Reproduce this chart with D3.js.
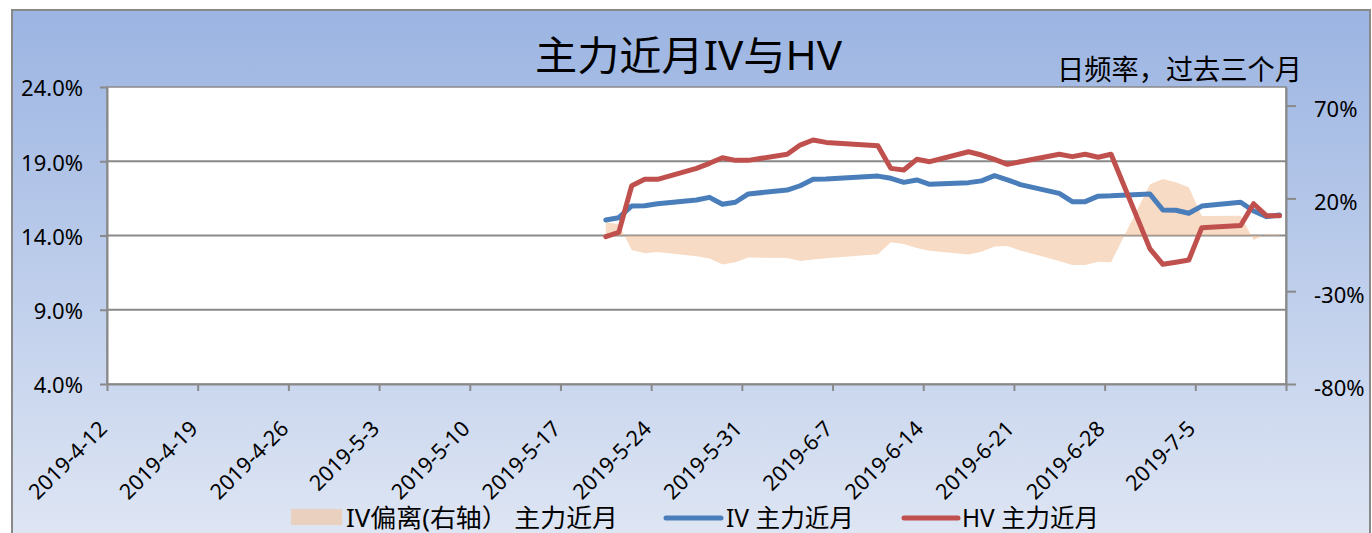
<!DOCTYPE html>
<html>
<head>
<meta charset="utf-8">
<script src="https://cdn.jsdelivr.net/npm/d3@7"></script>
<style>
  html, body { margin: 0; padding: 0; background: #fff; overflow: hidden; }
  text { font-family: "Noto Sans", "Noto Sans CJK SC", sans-serif; fill: #000; }
</style>
</head>
<body>
<div id="chart"></div>
<script>
// trading days shown
const dates = [
  "2019-05-20","2019-05-21","2019-05-22","2019-05-23","2019-05-24",
  "2019-05-27","2019-05-28","2019-05-29","2019-05-30","2019-05-31",
  "2019-06-03","2019-06-04","2019-06-05","2019-06-06",
  "2019-06-10","2019-06-11","2019-06-12","2019-06-13","2019-06-14",
  "2019-06-17","2019-06-18","2019-06-19","2019-06-20","2019-06-21",
  "2019-06-24","2019-06-25","2019-06-26","2019-06-27","2019-06-28",
  "2019-07-01","2019-07-02","2019-07-03","2019-07-04","2019-07-05",
  "2019-07-08","2019-07-09","2019-07-10","2019-07-11"
];
// IV 主力近月 (%)
const ivValues = [
  15.04, 15.20, 15.99, 16.00, 16.14,
  16.39, 16.57, 16.10, 16.24, 16.80,
  17.06, 17.35, 17.78, 17.80,
  18.00, 17.85, 17.58, 17.74, 17.45,
  17.56, 17.68, 18.03, 17.74, 17.43,
  16.84, 16.28, 16.28, 16.65, 16.67,
  16.79, 15.72, 15.70, 15.50, 15.98,
  16.24, 15.65, 15.27, 15.38
];
// HV 主力近月 (%)
const hvValues = [
  13.92, 14.21, 17.35, 17.78, 17.78,
  18.52, 18.86, 19.24, 19.06, 19.06,
  19.47, 20.09, 20.43, 20.27,
  20.05, 18.52, 18.41, 19.13, 18.97,
  19.64, 19.42, 19.13, 18.79, 18.97,
  19.47, 19.31, 19.47, 19.27, 19.47,
  13.10, 12.06, 12.20, 12.35, 14.53,
  14.67, 16.14, 15.33, 15.33
];
// IV偏离 (右轴, %)
const devValues = [
  7.2, 6.0, -7.8, -9.6, -8.9,
  -11.2, -12.4, -15.6, -14.4, -11.9,
  -12.1, -13.7, -12.9, -12.3,
  -10.1, -3.7, -4.6, -6.8, -8.2,
  -10.2, -8.8, -5.9, -5.7, -8.1,
  -13.8, -15.9, -15.9, -14.1, -14.4,
  27.6, 30.5, 28.7, 26.0, 10.5,
  10.7, -2.4, 0.8, 0.3
];

const xStart = "2019-04-12", xEnd = "2019-07-12";
const leftTicks = [4, 9, 14, 19, 24];
const rightTicks = [-80, -30, 20, 70];
const titleText = "主力近月IV与HV";
const subtitleText = "日频率，过去三个月";
const legendLabels = ["IV偏离(右轴）  主力近月", "IV 主力近月", "HV 主力近月"];

const W = 1372, H = 533;
const plot = {left: 107, right: 1286, top: 87, bottom: 384};
const blue = "#4a7ebb", red = "#c0504d", peach = "#f4c39c", grey = "#898989";

const parse = d3.timeParse("%Y-%m-%d");
const fmt = d3.timeFormat("%Y-%-m-%-d");
const data = dates.map((d, i) => ({date: parse(d), iv: ivValues[i], hv: hvValues[i], dev: devValues[i]}));

const svg = d3.select("#chart").append("svg")
  .attr("width", W).attr("height", H);

// background gradient
const grad = svg.append("defs").append("linearGradient")
  .attr("id", "bg").attr("x1", 0).attr("y1", 0).attr("x2", 0).attr("y2", 1);
grad.append("stop").attr("offset", "0%").attr("stop-color", "#9bb4e2");
grad.append("stop").attr("offset", "100%").attr("stop-color", "#e0e7f4");

svg.append("rect")
  .attr("x", 12).attr("y", 10).attr("width", 1358).attr("height", 540)
  .attr("fill", "url(#bg)").attr("stroke", grey).attr("stroke-width", 2);

svg.append("rect")
  .attr("x", plot.left).attr("y", plot.top)
  .attr("width", plot.right - plot.left).attr("height", plot.bottom - plot.top)
  .attr("fill", "#fff").attr("stroke", grey).attr("stroke-width", 1.5);

// scales
const x = d3.scaleTime()
  .domain([parse(xStart), parse(xEnd)])
  .range([plot.left, plot.right]);
const yL = d3.scaleLinear().domain([4, 24]).range([plot.bottom, plot.top]);
const yR = d3.scaleLinear().domain([-80, 80]).range([plot.bottom, plot.top]);
// points sit in the middle of their day slot
const xd = d => x(d3.timeHour.offset(d, 12));

// gridlines
svg.append("g").selectAll("line")
  .data(leftTicks.filter(t => t > 4 && t < 24))
  .enter().append("line")
  .attr("x1", plot.left).attr("x2", plot.right)
  .attr("y1", d => yL(d)).attr("y2", d => yL(d))
  .attr("stroke", grey).attr("stroke-width", 2);

// IV deviation area (right axis)
svg.append("path")
  .datum(data)
  .attr("d", d3.area()
    .x(d => xd(d.date))
    .y0(yR(0))
    .y1(d => yR(d.dev)))
  .attr("fill", peach).attr("fill-opacity", 0.6);

// IV line
svg.append("path")
  .datum(data)
  .attr("d", d3.line().x(d => xd(d.date)).y(d => yL(d.iv)))
  .attr("fill", "none").attr("stroke", blue).attr("stroke-width", 5)
  .attr("stroke-linejoin", "round").attr("stroke-linecap", "round");

// HV line
svg.append("path")
  .datum(data)
  .attr("d", d3.line().x(d => xd(d.date)).y(d => yL(d.hv)))
  .attr("fill", "none").attr("stroke", red).attr("stroke-width", 5)
  .attr("stroke-linejoin", "round").attr("stroke-linecap", "round");

// axes
function styleAxis(g) {
  g.select(".domain").attr("stroke", grey).attr("stroke-width", 2);
  g.selectAll(".tick line").attr("stroke", grey).attr("stroke-width", 2);
  g.selectAll("text").attr("fill", "#000").attr("font-family", null);
}

const axL = svg.append("g")
  .attr("transform", `translate(${plot.left},0)`)
  .call(d3.axisLeft(yL).tickValues(leftTicks).tickSize(7).tickSizeOuter(0)
    .tickPadding(17).tickFormat(d => d.toFixed(1) + "%"))
  .call(styleAxis);
axL.selectAll("text").attr("font-size", 22).attr("dy", "0.4em");

const axR = svg.append("g")
  .attr("transform", `translate(${plot.right},0)`)
  .call(d3.axisRight(yR).tickValues(rightTicks).tickSize(10).tickSizeOuter(0)
    .tickPadding(18).tickFormat(d => d + "%"))
  .call(styleAxis);
axR.selectAll("text").attr("font-size", 22).attr("dy", "0.5em");

// weekly ticks from the start date, last one (7-12) unlabeled
const tickDates = d3.range(14).map(i => d3.timeDay.offset(parse(xStart), 7 * i));
const labelDates = tickDates.slice(0, -1).map(fmt);
const axB = svg.append("g")
  .attr("transform", `translate(0,${plot.bottom})`)
  .call(d3.axisBottom(x).tickValues(tickDates).tickSize(7).tickSizeOuter(0)
    .tickFormat(d => labelDates.includes(fmt(d)) ? fmt(d) : ""))
  .call(styleAxis);
axB.selectAll("text")
  .attr("font-size", 21.5)
  .attr("x", 0).attr("y", 0).attr("dy", 0)
  .attr("text-anchor", "end")
  .attr("transform", "translate(1,46) rotate(-45)");

// title
svg.append("text")
  .attr("x", 535).attr("y", 70)
  .attr("font-family", "Noto Sans CJK SC").attr("font-size", 40)
  .attr("textLength", 307).attr("lengthAdjust", "spacingAndGlyphs")
  .text(titleText);

svg.append("text")
  .attr("x", 1057).attr("y", 80)
  .attr("font-family", "Noto Sans CJK SC").attr("font-size", 28)
  .attr("textLength", 245).attr("lengthAdjust", "spacingAndGlyphs")
  .text(subtitleText);

// legend
const leg = svg.append("g").attr("font-family", "Noto Sans CJK SC").attr("font-size", 25);
leg.append("rect").attr("x", 291).attr("y", 509).attr("width", 51).attr("height", 16)
  .attr("fill", peach).attr("fill-opacity", 0.6);
leg.append("text").attr("x", 346).attr("y", 527)
  .attr("textLength", 272).attr("lengthAdjust", "spacingAndGlyphs").text(legendLabels[0]);
leg.append("line").attr("x1", 666).attr("x2", 721).attr("y1", 518).attr("y2", 518)
  .attr("stroke", blue).attr("stroke-width", 5).attr("stroke-linecap", "round");
leg.append("text").attr("x", 726).attr("y", 527)
  .attr("textLength", 128).attr("lengthAdjust", "spacingAndGlyphs").text(legendLabels[1]);
leg.append("line").attr("x1", 904).attr("x2", 958).attr("y1", 518).attr("y2", 518)
  .attr("stroke", red).attr("stroke-width", 5).attr("stroke-linecap", "round");
leg.append("text").attr("x", 962).attr("y", 527)
  .attr("textLength", 137).attr("lengthAdjust", "spacingAndGlyphs").text(legendLabels[2]);
</script>
</body>
</html>
